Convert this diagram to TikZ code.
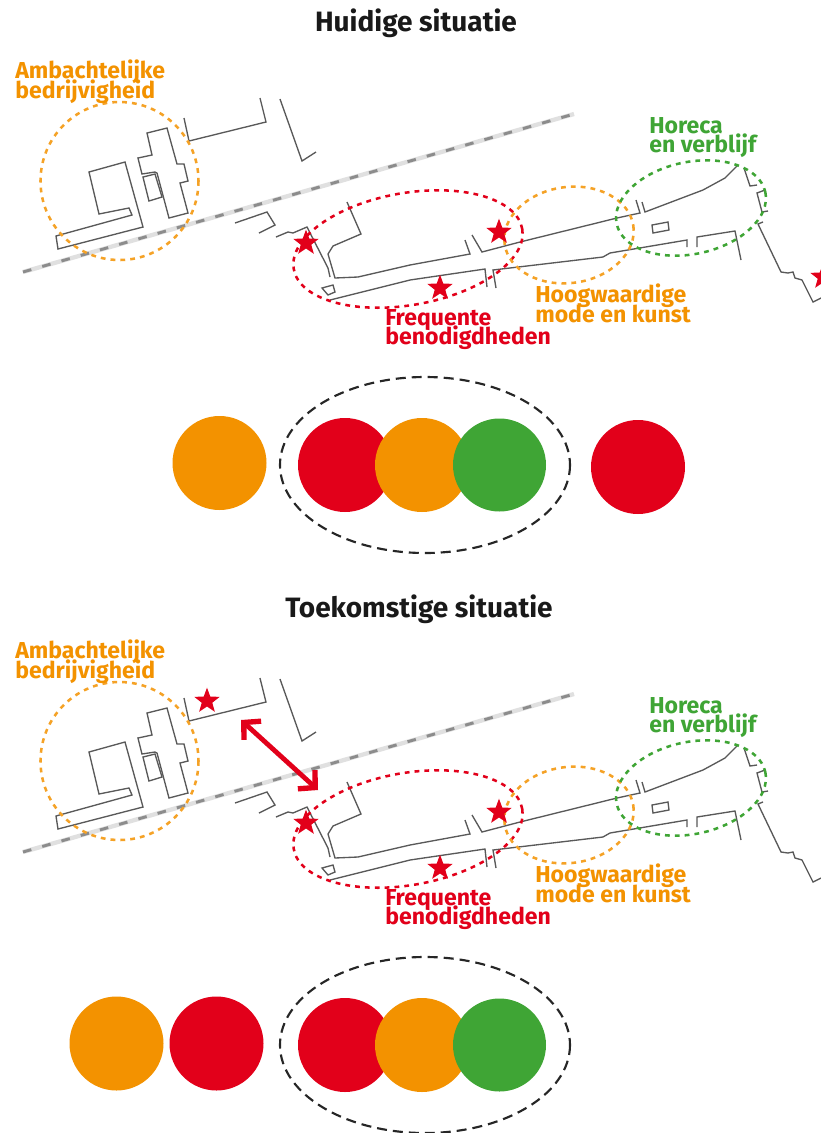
\documentclass[tikz,border=0pt]{standalone}
\usepackage{fontspec}
\setmainfont{Fira Sans}
\usetikzlibrary{shapes.geometric,arrows.meta}
\definecolor{cor}{HTML}{F39200}
\definecolor{cre}{HTML}{E2001A}
\definecolor{cgr}{HTML}{3FA535}
\AtBeginDocument{\setlength{\lineskiplimit}{-20pt}\setlength{\normallineskiplimit}{-20pt}}
\tikzset{
  wall/.style={draw=black!65,line width=1pt,line join=miter},
  zone/.style={line width=1.9pt,dash pattern=on 3.6pt off 3.8pt},
  orangezone/.style={zone,draw=cor!85},
  redzone/.style={zone,draw=cre},
  greenzone/.style={zone,draw=cgr},
  lab/.style={anchor=north west,align=left,inner sep=0pt,font=\fontsize{17.3}{14.8}\selectfont\bfseries},
  titlelab/.style={inner sep=0pt,font=\fontsize{21}{24}\selectfont\bfseries,text=black!90},
  mapstar/.style={star,star points=5,star point ratio=2.4,fill=cre,draw=none,inner sep=0pt,minimum size=20pt},
  disc/.style={fill=#1,draw=none},
  groupring/.style={draw=black!85,line width=1.6pt,dash pattern=on 7.5pt off 4.5pt},
  link/.style={draw=cre,line width=3.6pt,{Straight Barb[length=9pt,width=19pt,line width=4pt]}-{Straight Barb[length=9pt,width=19pt,line width=4pt]}}
}
\newcommand{\mapbase}[1]{%
  % railway
  \draw[line width=3.2pt,draw=black!12] (23,272) -- (574,114);
  \draw[line width=2.2pt,draw=black!45,dash pattern=on 6.5pt off 8.5pt] (23,272) -- (574,114);
  % buildings
  \draw[wall] (89,172) -- (125,162) -- (143,227) -- (58,249) -- (56,236) -- (132,215) -- (129,208) -- (99,214) -- cycle;
  \draw[wall] (147,133) -- (167,128) -- (177,164) -- (184,164) -- (188,181) -- (180,183) -- (188,213) -- (169,218) -- (157,173) -- (155,172) -- (142,174) -- (138,158) -- (152,155) -- cycle;
  \draw[wall] (143,177) -- (155,174) -- (162,197) -- (149,201) -- cycle;
  \draw[wall] (184,118) -- (189,141) -- (266,122) -- (260,98);
  \draw[wall] (280,99) -- (302,161) -- (316,152);
  \draw[wall] (235,223) -- (267,212) -- (275,225) -- (259,233);
  \draw[wall] (276,237) -- (288,232) -- (293,233) -- (307,227) -- (328,268) -- (330,277);
  \draw[wall] (347,202) -- (361,234) -- (333,246) -- (328,254) -- (335,278) -- (358,277) -- (410,265) -- (470,254) -- (465,240);
  \draw[wall] (472,235) -- (482,252) -- (520,242) -- (617,218) -- (640,213) -- (636,200);
  \draw[wall] (642,202) -- (645,212) -- (703,190) -- (725,178) -- (738,165);
  \draw[wall] (322,288) -- (333,285) -- (335,292) -- (328,295) -- cycle;
  \draw[wall] (330,300) -- (410,280) -- (485,269) -- (487,287);
  \draw[wall] (496,288) -- (493,270) -- (603,257) -- (610,253) -- (687,240) -- (687,247);
  \draw[wall] (697,247) -- (697,237) -- (735,231) -- (741,260);
  \draw[wall] (652,225) -- (668,222) -- (669,230) -- (653,233) -- cycle;
  \draw[wall] (744,168) -- (750,186) -- (757,185);
  \draw[wall] (765,190) -- (757,193) -- (762,212) -- (768,211);
  \draw[wall] (763,222) -- (758,224) -- (781,272) -- (788,273) -- (793,272) -- (795,278) -- (802,280) -- (813,302) -- (821,298);
  % zones
  \draw[orangezone] (119.5,181) circle [radius=79];
  \draw[redzone,shift={(408,249)},rotate=10] (0,0) ellipse [x radius=116,y radius=56];
  \draw[orangezone,shift={(569,235)},rotate=8] (0,0) ellipse [x radius=65,y radius=48];
  \draw[greenzone,shift={(691,208)},rotate=12] (0,0) ellipse [x radius=76,y radius=46];
  % labels
  \node[lab,text=cor] (ambacht#1) at (15,60) {Ambachtelijke\\bedrijvigheid};
  \node[lab,text=cre] (freq#1) at (385,309) {Frequente\\benodigdheden};
  \node[lab,text=cor] (hoog#1) at (535,284) {Hoogwaardige\\mode en kunst};
  \node[lab,text=cgr] (hor#1) at (649,117) {Horeca\\en verblijf};
  % fixed stars
  \node[mapstar] (stara#1) at (306,243) {};
  \node[mapstar] (starb#1) at (499,232) {};
  \node[mapstar] (starc#1) at (440,288) {};
}
\begin{document}
\begin{tikzpicture}[x=0.75pt,y=-0.75pt]
  \clip (0,0) rectangle (821,1133);
  \fill[white] (0,0) rectangle (821,1133);
  \node[titlelab] (titletop) at (416,23) {Huidige situatie};
  \mapbase{top}
  \node[mapstar] (starright) at (823,277) {};
  \fill[disc=cor] (219.5,463) circle [radius=47];
  \fill[disc=cre] (345,465) circle [radius=47];
  \fill[disc=cor] (422,465) circle [radius=47];
  \fill[disc=cgr] (499.5,465) circle [radius=46.5];
  \fill[disc=cre] (638,467) circle [radius=47];
  \draw[groupring] (425,465) ellipse [x radius=145,y radius=88];
  \node[titlelab] (titlebottom) at (419,609) {Toekomstige situatie};
  \begin{scope}[yshift=-435pt]
    \mapbase{bot}
  \end{scope}
  \node[mapstar] (starnew) at (207,701) {};
  \coordinate (arrowa) at (241,720);
  \coordinate (arrowb) at (318,790);
  \draw[link] (arrowa) -- (arrowb);
  \fill[disc=cor] (116.5,1043.5) circle [radius=47];
  \fill[disc=cre] (216.5,1043.5) circle [radius=47];
  \fill[disc=cre] (345,1045) circle [radius=47];
  \fill[disc=cor] (422,1045) circle [radius=47];
  \fill[disc=cgr] (499.5,1045) circle [radius=46.5];
  \draw[groupring] (425,1045) ellipse [x radius=145,y radius=88];
\end{tikzpicture}
\end{document}
